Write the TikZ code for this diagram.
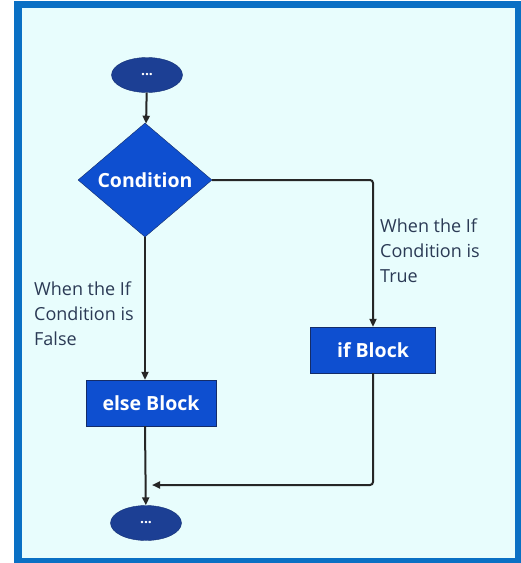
\documentclass[tikz,border=0pt]{standalone}
\usepackage{fontspec}
\setmainfont{Open Sans}
\usetikzlibrary{arrows.meta,
                positioning,
                shapes.geometric}
\definecolor{frameblue}{HTML}{0A70C4}
\definecolor{paper}{HTML}{E8FDFD}
\definecolor{navy}{HTML}{1C3F94}
\definecolor{blockblue}{HTML}{0E4FD0}
\definecolor{labelgray}{HTML}{2B3A55}
\tikzset{
  terminal/.style={%
    ellipse,
    fill=navy,
    draw=navy!80!black,
    inner sep=0,
    minimum width=71pt,
    minimum height=35pt,
    text=white,
    font=\bfseries\fontsize{14}{16}\selectfont,
  },
  decision/.style={%
    diamond,
    fill=blockblue,
    draw=navy!70!black,
    inner sep=0,
    minimum width=134pt,
    minimum height=114pt,
    text=white,
    font=\bfseries\fontsize{19.5}{23}\selectfont,
  },
  block/.style={%
    rectangle,
    fill=blockblue,
    draw=navy!70!black,
    minimum height=46pt,
    text=white,
    font=\bfseries\fontsize{19.5}{23}\selectfont,
  },
  flow/.style={%
    draw=black!85,
    line width=2pt,
    rounded corners=3pt,
    -{Triangle[length=8pt,width=7pt]},
  },
  note/.style={%
    align=left,
    anchor=base west,
    inner sep=0,
    text=labelgray,
    font=\fontsize{18}{25}\selectfont,
  }
}

\begin{document}
\begin{tikzpicture}[x=1pt,y=-1pt]
    \useasboundingbox (0,0) rectangle (521,563);
    \fill [frameblue] (14,1) rectangle (521,563);
    \fill [paper] (22,8) rectangle (515,558);
    \node (start) [terminal] at (147,75) {...};
    \node (cond) [decision] at (145,180) {Condition};
    \node (ifblock) [block,minimum width=125pt] at (373,350) {if Block};
    \node (elseblock) [block,minimum width=130pt] at (151,403) {else Block};
    \node (stop) [terminal] at (146,523) {...};
    \coordinate (join) at (146,485);
    \draw [flow] (start) -- (cond);
    \draw [flow] (cond.east) -| (ifblock.north);
    \draw [flow] (cond.south) -- (cond.south |- elseblock.north);
    \draw [flow] (cond.south |- elseblock.south) -- (stop);
    \draw [flow,shorten >=6pt] (ifblock.south) |- (join);
    % base anchor sits on the last line
    \node (truenote) [note] at (380,282) {When the If\\Condition is\\True};
    \node (falsenote) [note] at (34,345) {When the If\\Condition is\\False};
\end{tikzpicture}
\end{document}
